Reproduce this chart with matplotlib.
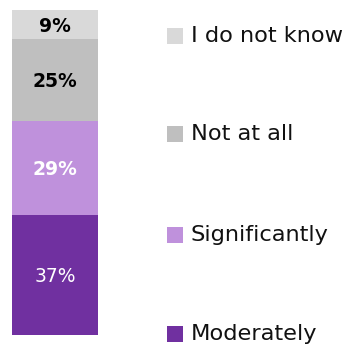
import matplotlib.pyplot as plt
from matplotlib.patches import Rectangle

plt.rcParams['font.family'] = ['DejaVu Sans']

# stacked from bottom to top
categories = ['Moderately', 'Significantly', 'Not at all', 'I do not know']
values = [37, 29, 25, 9]
colors = ['#7030a0', '#bf91dc', '#bfbfbf', '#d9d9d9']
label_colors = ['white', 'white', 'black', 'black']
label_weights = ['normal', 'bold', 'bold', 'bold']

W, H = 349, 350
fig = plt.figure(figsize=(W / 100, H / 100), dpi=100)
ax = fig.add_axes([12 / W, 15 / H, 86 / W, 325 / H])

bottom = 0
for v, c, tc, fw in zip(values, colors, label_colors, label_weights):
    ax.bar(0, v, width=1, bottom=bottom, color=c, linewidth=0)
    ax.text(0, bottom + v / 2, f'{v}%', ha='center', va='center_baseline',
            color=tc, fontsize=13.5, fontweight=fw)
    bottom += v

ax.set_xlim(-0.5, 0.5)
ax.set_ylim(0, 100)
ax.axis('off')

# legend, one entry per row
legend_y = [334, 235, 134, 35.5]  # pixel centres from top
for name, c, y in zip(categories, colors, legend_y):
    fy = 1 - y / H
    fig.add_artist(Rectangle((167 / W, fy - 8 / H), 16 / W, 16 / H,
                             transform=fig.transFigure, color=c, linewidth=0))
    fig.text(191 / W, fy, name, ha='left', va='center',
             fontsize=16.2, color='#111111')

fig.savefig('out.png', dpi=100)
